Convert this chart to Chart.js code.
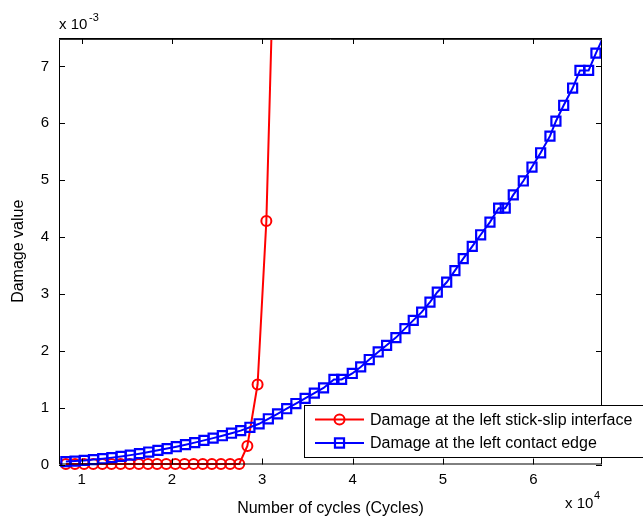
<!DOCTYPE html>
<html lang="en">
<head>
  <meta charset="UTF-8">
  <title>Damage value vs number of cycles</title>
  <script src="https://cdn.jsdelivr.net/npm/chart.js"></script>
  <style>
    body { margin: 0; background: #fff; }
  </style>
</head>
<body>
  <div style="width: 643px; height: 519px;">
    <canvas id="damageChart" width="643" height="519"></canvas>
  </div>

  <script>
    // values (damage in raw units, cycles in cycles)
    const slipCycles = [8260, 9270, 10280, 11290, 12300, 13310, 14320, 15330, 16340, 17350,
      18360, 19370, 20380, 21390, 22400, 23410, 24420, 25430, 26440, 27450,
      28350, 29480, 30450, 31510];
    const slipDamage = [0.00001, 0.00001, 0.00001, 0.00001, 0.00001, 0.00001, 0.00001, 0.00001, 0.00001, 0.00001,
      0.00001, 0.00001, 0.00001, 0.00001, 0.00001, 0.00001, 0.00001, 0.00001, 0.00001, 0.00001,
      0.000327, 0.001408, 0.00428, 0.0104];

    const edgeCycles = [8260, 9280, 10300, 11320, 12340, 13350, 14370, 15390, 16410, 17430,
      18450, 19470, 20480, 21500, 22520, 23540, 24560, 25580, 26590, 27610,
      28630, 29650, 30670, 31690, 32700, 33720, 34740, 35760, 36780, 37930,
      38780, 39960, 40890, 41840, 42830, 43760, 44790, 45790, 46710, 47640,
      48560, 49370, 50410, 51320, 52240, 53240, 54170, 55200, 56160, 56890,
      57780, 58890, 59850, 60810, 61840, 62500, 63360, 64350, 65160, 66120,
      66930, 67870];
    const edgeDamage = [0.000051, 0.000060, 0.000072, 0.000086, 0.000102, 0.000121, 0.000142, 0.000165, 0.000191, 0.000219,
      0.000249, 0.000280, 0.000313, 0.000349, 0.000385, 0.000424, 0.000464, 0.000506, 0.000550, 0.000595,
      0.000655, 0.000716, 0.000804, 0.000891, 0.000981, 0.001072, 0.001163, 0.001256, 0.001347, 0.001496,
      0.001496, 0.001601, 0.001716, 0.001846, 0.001979, 0.002096, 0.002231, 0.002389, 0.002534, 0.002680,
      0.002855, 0.003030, 0.003205, 0.003410, 0.003620, 0.003835, 0.004040, 0.004263, 0.004508, 0.004508,
      0.004741, 0.004986, 0.005231, 0.005482, 0.005774, 0.006037, 0.006317, 0.006620, 0.006930, 0.006930,
      0.007233, 0.007560];

    const xTicks = [10000, 20000, 30000, 40000, 50000, 60000];
    const yTicks = [0, 0.001, 0.002, 0.003, 0.004, 0.005, 0.006, 0.007];
    const seriesLabels = ['Damage at the left stick-slip interface', 'Damage at the left contact edge'];

    const FONT = '"Liberation Sans", Arial, Helvetica, sans-serif';

    const toPoints = (xs, ys) => xs.map((x, i) => ({ x: x, y: ys[i] }));

    // box, inward ticks, exponent labels and legend, MATLAB style
    const matlabBox = {
      id: 'matlabBox',
      afterDatasetsDraw(chart) {
        const { ctx, chartArea: a, scales: { x, y } } = chart;
        ctx.save();
        ctx.strokeStyle = '#000';
        ctx.lineWidth = 1;
        ctx.strokeRect(a.left + 0.5, a.top + 0.5, a.right - a.left - 1, a.bottom - a.top - 1);
        // top edge looks heavier in the original
        ctx.strokeStyle = '#333';
        ctx.beginPath();
        ctx.moveTo(a.left, a.top + 1.5); ctx.lineTo(a.right, a.top + 1.5);
        ctx.stroke();

        ctx.strokeStyle = '#000';
        ctx.beginPath();
        xTicks.forEach(v => {
          const px = Math.round(x.getPixelForValue(v)) + 0.5;
          ctx.moveTo(px, a.bottom); ctx.lineTo(px, a.bottom - 6);
          ctx.moveTo(px, a.top); ctx.lineTo(px, a.top + 6);
        });
        yTicks.forEach(v => {
          const py = Math.round(y.getPixelForValue(v)) + 0.5;
          ctx.moveTo(a.left, py); ctx.lineTo(a.left + 6, py);
          ctx.moveTo(a.right, py); ctx.lineTo(a.right - 6, py);
        });
        ctx.stroke();

        // exponent labels
        ctx.fillStyle = '#000';
        ctx.textBaseline = 'alphabetic';
        ctx.textAlign = 'left';
        ctx.font = '15px ' + FONT;
        ctx.fillText('x 10', 59, 29);
        ctx.fillText('x 10', 565, 508);
        ctx.font = '11px ' + FONT;
        ctx.fillText('-3', 89, 21);
        ctx.fillText('4', 594, 499);

        // legend
        const lx = 304.5, ly = 405.5;
        ctx.fillStyle = '#fff';
        ctx.fillRect(lx, ly, 345, 52);
        ctx.strokeStyle = '#000';
        ctx.lineWidth = 1;
        ctx.strokeRect(lx, ly, 345, 52);
        const rows = [419.5, 443];
        chart.data.datasets.forEach((ds, i) => {
          const ry = rows[i];
          ctx.strokeStyle = ds.borderColor;
          ctx.lineWidth = 2;
          ctx.beginPath();
          ctx.moveTo(315, ry); ctx.lineTo(364, ry);
          ctx.stroke();
          ctx.fillStyle = 'rgba(0,0,0,0)';
          ctx.strokeStyle = ds.pointBorderColor;
          ctx.lineWidth = ds.pointBorderWidth;
          Chart.helpers.drawPoint(ctx, {
            pointStyle: ds.pointStyle, radius: ds.pointRadius, borderWidth: ds.pointBorderWidth
          }, 339.5, ry);
          ctx.fillStyle = '#000';
          ctx.font = '16px ' + FONT;
          ctx.textBaseline = 'middle';
          ctx.fillText(ds.label, 370, ry + 1);
        });
        ctx.restore();
      }
    };

    const data = {
      datasets: [{
        label: seriesLabels[0],
        data: toPoints(slipCycles, slipDamage),
        borderColor: '#ff0000',
        backgroundColor: 'rgba(0,0,0,0)',
        borderWidth: 2,
        pointStyle: 'circle',
        pointRadius: 5,
        pointBorderWidth: 2,
        pointBorderColor: '#ff0000',
        pointBackgroundColor: 'rgba(0,0,0,0)',
        tension: 0,
        order: 1,
        clip: { left: 10, top: 0, right: 0, bottom: 10 }
      }, {
        label: seriesLabels[1],
        data: toPoints(edgeCycles, edgeDamage),
        borderColor: '#0000ff',
        backgroundColor: 'rgba(0,0,0,0)',
        borderWidth: 2,
        pointStyle: 'rect',
        pointRadius: 6.4,
        pointBorderWidth: 2.2,
        pointBorderColor: '#0000ff',
        pointBackgroundColor: 'rgba(0,0,0,0)',
        tension: 0,
        order: 0,
        clip: { left: 10, top: 0, right: 0, bottom: 10 }
      }]
    };

    const config = {
      type: 'line',
      data: data,
      options: {
        responsive: false,
        animation: false,
        devicePixelRatio: 1,
        layout: { padding: { top: 38, right: 41, left: 0, bottom: 0 } },
        plugins: {
          legend: { display: false },
          tooltip: { enabled: false }
        },
        scales: {
          x: {
            type: 'linear',
            min: 7500,
            max: 67600,
            afterBuildTicks: s => { s.ticks = xTicks.map(v => ({ value: v })); },
            afterFit: s => { s.height = 54.5; },
            grid: { display: false, drawTicks: false },
            border: { display: false },
            ticks: {
              autoSkip: false,
              maxRotation: 0,
              padding: 6,
              color: '#000',
              font: { family: FONT, size: 15 },
              callback: v => String(Math.round(v / 10000))
            },
            title: {
              display: true,
              text: 'Number of cycles (Cycles)',
              color: '#000',
              font: { family: FONT, size: 16 },
              padding: { top: 0, bottom: 1 }
            }
          },
          y: {
            min: 0,
            max: 0.0075,
            afterBuildTicks: s => { s.ticks = yTicks.map(v => ({ value: v })); },
            afterFit: s => { s.width = 59; },
            grid: { display: false, drawTicks: false },
            border: { display: false },
            ticks: {
              padding: 10,
              color: '#000',
              font: { family: FONT, size: 15 },
              callback: v => String(Math.round(v * 1000))
            },
            title: {
              display: true,
              text: 'Damage value',
              color: '#000',
              font: { family: FONT, size: 16 },
              padding: { top: 9, bottom: 0 }
            }
          }
        }
      },
      plugins: [matlabBox]
    };

    new Chart(document.getElementById('damageChart'), config);
  </script>
</body>
</html>
